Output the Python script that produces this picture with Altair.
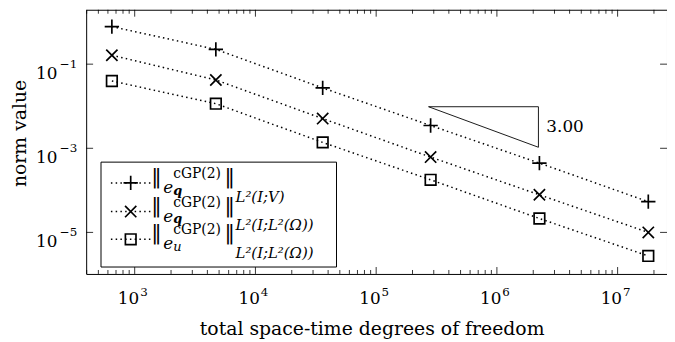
import altair as alt
import pandas as pd

# ---------------- data ----------------
dof = [647, 4700, 36060, 282500, 2250000, 17950000]
err_q_V = [0.783, 0.225, 0.0272, 3.48e-3, 4.44e-4, 5.37e-5]
err_q_L2 = [0.163, 0.0421, 5.08e-3, 6.17e-4, 7.83e-5, 1.0e-5]
err_u_L2 = [0.0398, 0.01148, 1.38e-3, 1.78e-4, 2.14e-5, 2.75e-6]
series_names = ["qV", "qL2", "uL2"]

x_major = [1e3, 1e4, 1e5, 1e6, 1e7]
x_major_exp = ["3", "4", "5", "6", "7"]
y_major = [1e-1, 1e-3, 1e-5]
y_major_exp = ["\u22121", "\u22123", "\u22125"]
x_minor_all = [k * 10 ** d for d in range(2, 8) for k in range(2, 10)]

triangle_x = [2.716e5, 2.208e6]
triangle_y = [9.73e-3, 1.057e-3]
slope_label = "3.00"

x_title = "total space-time degrees of freedom"
y_title = "norm value"
legend_var = ["q", "q", "u"]
legend_var_bold = [True, True, False]
legend_sup = "cGP(2)"
legend_space = ["L\u00b2(I;V)", "L\u00b2(I;L\u00b2(\u03a9))", "L\u00b2(I;L\u00b2(\u03a9))"]

# ---------------- layout ----------------
FONT = "DejaVu Serif"
W, H = 587, 267
X_DOMAIN = [10 ** 2.598, 10 ** 7.409]
Y_DOMAIN = [10 ** -5.988, 10 ** 0.294]
x_minor = [v for v in x_minor_all if X_DOMAIN[0] <= v <= X_DOMAIN[1]]

xs = alt.Scale(type="log", domain=X_DOMAIN, nice=False)
ys = alt.Scale(type="log", domain=Y_DOMAIN, nice=False)

PLUS = "M-1,0L1,0M0,-1L0,1"
CROSS = "M-1,-1L1,1M-1,1L1,-1"
shapes = {"qV": (PLUS, 210), "qL2": (CROSS, 130), "uL2": ("square", 115)}
DASH = [1.5, 3.3]

df = pd.DataFrame({
    "dof": dof * 3,
    "err": err_q_V + err_q_L2 + err_u_L2,
    "series": sum([[s] * len(dof) for s in series_names], []),
})

one = pd.DataFrame({"_": [0]})

layers = []

# data lines
layers.append(
    alt.Chart(df).mark_line(color="black", strokeWidth=1.5, strokeDash=DASH).encode(
        x=alt.X("dof:Q", scale=xs, axis=None),
        y=alt.Y("err:Q", scale=ys, axis=None),
        detail="series:N",
    )
)
# markers
for s in series_names:
    shp, sz = shapes[s]
    layers.append(
        alt.Chart(df[df.series == s]).mark_point(
            shape=shp, size=sz, filled=False, color="black", strokeWidth=1.7, opacity=1
        ).encode(
            x=alt.X("dof:Q", scale=xs, axis=None),
            y=alt.Y("err:Q", scale=ys, axis=None),
        )
    )

# slope triangle
tri = pd.DataFrame({
    "x": [triangle_x[0], triangle_x[1], triangle_x[1], triangle_x[0]],
    "y": [triangle_y[0], triangle_y[0], triangle_y[1], triangle_y[0]],
    "o": [0, 1, 2, 3],
})
layers.append(
    alt.Chart(tri).mark_line(color="black", strokeWidth=0.9).encode(
        x=alt.X("x:Q", scale=xs, axis=None),
        y=alt.Y("y:Q", scale=ys, axis=None),
        order="o:Q",
    )
)
lab = pd.DataFrame({"x": [triangle_x[1]], "y": [(triangle_y[0] * triangle_y[1]) ** 0.5], "t": [slope_label]})
layers.append(
    alt.Chart(lab).mark_text(font=FONT, fontSize=17, align="left", baseline="middle", dx=8, color="black").encode(
        x=alt.X("x:Q", scale=xs, axis=None),
        y=alt.Y("y:Q", scale=ys, axis=None),
        text="t:N",
    )
)

# ticks (inward, all four sides)
xmaj = pd.DataFrame({"x": x_major, "exp": x_major_exp})
xmin = pd.DataFrame({"x": x_minor})
ymaj = pd.DataFrame({"y": y_major, "exp": y_major_exp})
for d, ln in ((xmaj, 7), (xmin, 4)):
    for y0, y1 in ((H, H - ln), (0, ln)):
        layers.append(
            alt.Chart(d).mark_rule(color="black", strokeWidth=0.8).encode(
                x=alt.X("x:Q", scale=xs, axis=None), y=alt.value(y0), y2=alt.value(y1)
            )
        )
for x0, x1 in ((0, 7), (W, W - 7)):
    layers.append(
        alt.Chart(ymaj).mark_rule(color="black", strokeWidth=0.8).encode(
            y=alt.Y("y:Q", scale=ys, axis=None), x=alt.value(x0), x2=alt.value(x1)
        )
    )

# tick labels
layers.append(
    alt.Chart(xmaj).mark_text(text="10", font=FONT, fontSize=17, align="right", dx=4.5, color="black").encode(
        x=alt.X("x:Q", scale=xs, axis=None), y=alt.value(292)
    )
)
layers.append(
    alt.Chart(xmaj).mark_text(font=FONT, fontSize=12, align="left", dx=5.5, color="black").encode(
        x=alt.X("x:Q", scale=xs, axis=None), y=alt.value(285), text="exp:N"
    )
)
layers.append(
    alt.Chart(ymaj).mark_text(text="10", font=FONT, fontSize=17, align="right", dy=10, color="black").encode(
        y=alt.Y("y:Q", scale=ys, axis=None), x=alt.value(-29)
    )
)
layers.append(
    alt.Chart(ymaj).mark_text(font=FONT, fontSize=12, align="right", dy=0, color="black").encode(
        y=alt.Y("y:Q", scale=ys, axis=None), x=alt.value(-9), text="exp:N"
    )
)

# axis titles
layers.append(
    alt.Chart(one).mark_text(text=x_title, font=FONT, fontSize=19, align="center", color="black").encode(
        x=alt.value(289), y=alt.value(323)
    )
)
layers.append(
    alt.Chart(one).mark_text(text=y_title, font=FONT, fontSize=19, align="center", baseline="middle",
                             angle=270, color="black").encode(
        x=alt.value(-67), y=alt.value(125)
    )
)

# legend
layers.append(
    alt.Chart(one).mark_rect(fill="white", stroke="black", strokeWidth=1).encode(
        x=alt.value(15), x2=alt.value(253), y=alt.value(154), y2=alt.value(260)
    )
)
row_y = [175, 204, 232]
for i, s in enumerate(series_names):
    yc = row_y[i]
    shp, sz = shapes[s]
    layers.append(
        alt.Chart(one).mark_rule(color="black", strokeWidth=1.5, strokeDash=DASH).encode(
            x=alt.value(25), x2=alt.value(65), y=alt.value(yc)
        )
    )
    layers.append(
        alt.Chart(one).mark_point(shape=shp, size=sz, filled=False, color="black", strokeWidth=1.7,
                                  opacity=1).encode(x=alt.value(45), y=alt.value(yc))
    )
    for bx in (71, 145):
        layers.append(
            alt.Chart(one).mark_text(text="\u2016", font=FONT, fontSize=21, align="center",
                                     baseline="middle", color="black").encode(
                x=alt.value(bx), y=alt.value(yc - 6)
            )
        )
    layers.append(
        alt.Chart(one).mark_text(text="e", font=FONT, fontSize=17, fontStyle="italic", align="left",
                                 color="black").encode(x=alt.value(78), y=alt.value(yc + 5))
    )
    layers.append(
        alt.Chart(one).mark_text(text=legend_sup, font=FONT, fontSize=14, align="left",
                                 color="black").encode(x=alt.value(88), y=alt.value(yc - 9))
    )
    layers.append(
        alt.Chart(one).mark_text(text=legend_var[i], font=FONT, fontSize=13, fontStyle="italic",
                                 fontWeight="bold" if legend_var_bold[i] else "normal",
                                 align="left", color="black").encode(x=alt.value(88), y=alt.value(yc + 8))
    )
    layers.append(
        alt.Chart(one).mark_text(text=legend_space[i], font=FONT, fontSize=15, fontStyle="italic",
                                 align="left", color="black").encode(x=alt.value(151), y=alt.value(yc + 14))
    )

chart = alt.layer(*layers).properties(
    width=W, height=H,
    padding={"left": 79, "top": 0, "right": 0, "bottom": 66},
    autosize=alt.AutoSizeParams(type="none"),
).configure_view(stroke="black", strokeWidth=1)

chart.save("out.html", embed_options={"renderer": "svg", "actions": False})
